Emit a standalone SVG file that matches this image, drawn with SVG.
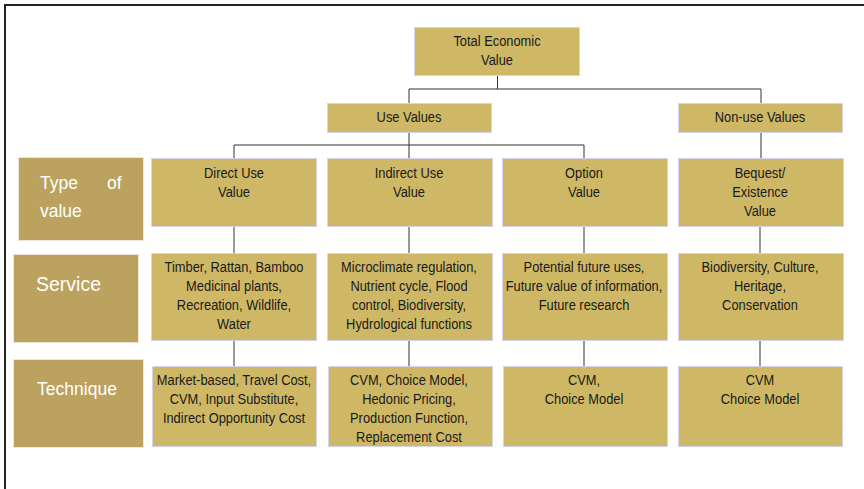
<svg xmlns="http://www.w3.org/2000/svg" width="864" height="489" viewBox="0 0 864 489">
<style>
.box{fill:#CEB866;stroke:#D9D3E8;stroke-width:1}
.lab{fill:#BBA25E;stroke:#EFE6D6;stroke-width:1}
.t{font-family:"Liberation Sans",Arial,sans-serif;font-size:15.5px;fill:#1A1A1A;text-anchor:middle}
.lt{font-family:"Liberation Sans",Arial,sans-serif;fill:#FFFFFF}
.c{stroke:#333333;stroke-width:1;fill:none}
.frame{stroke:#222222;stroke-width:2;fill:none}
</style>
<rect width="864" height="489" fill="#FFFFFF"/>
<path class="frame" d="M5,489 V5 H864"/>
<g id="connectors">
<path class="c" d="M497.5,75 V89 M409,89 H761 M409,89 V103 M761,89 V103"/>
<path class="c" d="M409,133 V145 M234,145 H584 M234,145 V158 M409,145 V158 M584,145 V158 M761,133 V158"/>
<path class="c" d="M234,226 V253 M409,226 V253 M584,226 V253 M760,226 V253"/>
<path class="c" d="M234,340 V366 M409,340 V366 M584,340 V366 M760,340 V366"/>
</g>
<g id="tev"><rect class="box" x="414.5" y="27.5" width="165" height="48"/><text class="t" transform="matrix(0.83 0 0 1 497 0)" y="46">Total Economic</text><text class="t" transform="matrix(0.83 0 0 1 497 0)" y="65">Value</text></g>
<g id="use"><rect class="box" x="327.5" y="103.5" width="164" height="29"/><text class="t" transform="matrix(0.83 0 0 1 409 0)" y="122">Use Values</text></g>
<g id="nonuse"><rect class="box" x="678.5" y="103.5" width="164" height="29"/><text class="t" transform="matrix(0.83 0 0 1 760 0)" y="122">Non-use Values</text></g>
<g id="label-type"><rect class="lab" x="18.5" y="157.5" width="125" height="83"/><text class="lt" x="40" y="189" font-size="17.5">Type</text><text class="lt" x="107" y="189" font-size="17.5">of</text><text class="lt" x="40" y="217" font-size="17.5">value</text></g>
<g id="label-service"><rect class="lab" x="13.5" y="254.5" width="125" height="88"/><text class="lt" x="36" y="291" font-size="19.5">Service</text></g>
<g id="label-technique"><rect class="lab" x="13.5" y="359.5" width="130" height="88"/><text class="lt" x="77" y="395" font-size="17.5" text-anchor="middle">Technique</text></g>
<g id="direct"><rect class="box" x="151.5" y="158.5" width="165" height="68"/><text class="t" transform="matrix(0.83 0 0 1 234 0)" y="178">Direct Use</text><text class="t" transform="matrix(0.83 0 0 1 234 0)" y="197">Value</text></g>
<g id="indirect"><rect class="box" x="327.5" y="158.5" width="165" height="68"/><text class="t" transform="matrix(0.83 0 0 1 409 0)" y="178">Indirect Use</text><text class="t" transform="matrix(0.83 0 0 1 409 0)" y="197">Value</text></g>
<g id="option"><rect class="box" x="502.5" y="158.5" width="165" height="68"/><text class="t" transform="matrix(0.83 0 0 1 584 0)" y="178">Option</text><text class="t" transform="matrix(0.83 0 0 1 584 0)" y="197">Value</text></g>
<g id="bequest"><rect class="box" x="678.5" y="158.5" width="165" height="68"/><text class="t" transform="matrix(0.83 0 0 1 760 0)" y="178">Bequest/</text><text class="t" transform="matrix(0.83 0 0 1 760 0)" y="197">Existence</text><text class="t" transform="matrix(0.83 0 0 1 760 0)" y="216">Value</text></g>
<g id="direct-service"><rect class="box" x="151.5" y="253.5" width="165" height="87"/><text class="t" transform="matrix(0.83 0 0 1 234 0)" y="272">Timber, Rattan, Bamboo</text><text class="t" transform="matrix(0.83 0 0 1 234 0)" y="291">Medicinal plants,</text><text class="t" transform="matrix(0.83 0 0 1 234 0)" y="310">Recreation, Wildlife,</text><text class="t" transform="matrix(0.83 0 0 1 234 0)" y="329">Water</text></g>
<g id="indirect-service"><rect class="box" x="327.5" y="253.5" width="165" height="87"/><text class="t" transform="matrix(0.83 0 0 1 409 0)" y="272">Microclimate regulation,</text><text class="t" transform="matrix(0.83 0 0 1 409 0)" y="291">Nutrient cycle, Flood</text><text class="t" transform="matrix(0.83 0 0 1 409 0)" y="310">control, Biodiversity,</text><text class="t" transform="matrix(0.83 0 0 1 409 0)" y="329">Hydrological functions</text></g>
<g id="option-service"><rect class="box" x="502.5" y="253.5" width="165" height="87"/><text class="t" transform="matrix(0.83 0 0 1 584 0)" y="272">Potential future uses,</text><text class="t" transform="matrix(0.83 0 0 1 584 0)" y="291">Future value of information,</text><text class="t" transform="matrix(0.83 0 0 1 584 0)" y="310">Future research</text></g>
<g id="bequest-service"><rect class="box" x="678.5" y="253.5" width="165" height="87"/><text class="t" transform="matrix(0.83 0 0 1 760 0)" y="272">Biodiversity, Culture,</text><text class="t" transform="matrix(0.83 0 0 1 760 0)" y="291">Heritage,</text><text class="t" transform="matrix(0.83 0 0 1 760 0)" y="310">Conservation</text></g>
<g id="direct-technique"><rect class="box" x="152.5" y="366.5" width="164" height="80"/><text class="t" transform="matrix(0.83 0 0 1 234 0)" y="385">Market-based, Travel Cost,</text><text class="t" transform="matrix(0.83 0 0 1 234 0)" y="404">CVM, Input Substitute,</text><text class="t" transform="matrix(0.83 0 0 1 234 0)" y="423">Indirect Opportunity Cost</text></g>
<g id="indirect-technique"><rect class="box" x="328.5" y="366.5" width="164" height="80"/><text class="t" transform="matrix(0.83 0 0 1 409 0)" y="385">CVM, Choice Model,</text><text class="t" transform="matrix(0.83 0 0 1 409 0)" y="404">Hedonic Pricing,</text><text class="t" transform="matrix(0.83 0 0 1 409 0)" y="423">Production Function,</text><text class="t" transform="matrix(0.83 0 0 1 409 0)" y="442">Replacement Cost</text></g>
<g id="option-technique"><rect class="box" x="503.5" y="366.5" width="164" height="80"/><text class="t" transform="matrix(0.83 0 0 1 584 0)" y="385">CVM,</text><text class="t" transform="matrix(0.83 0 0 1 584 0)" y="404">Choice Model</text></g>
<g id="bequest-technique"><rect class="box" x="678.5" y="366.5" width="164" height="80"/><text class="t" transform="matrix(0.83 0 0 1 760 0)" y="385">CVM</text><text class="t" transform="matrix(0.83 0 0 1 760 0)" y="404">Choice Model</text></g>
</svg>
